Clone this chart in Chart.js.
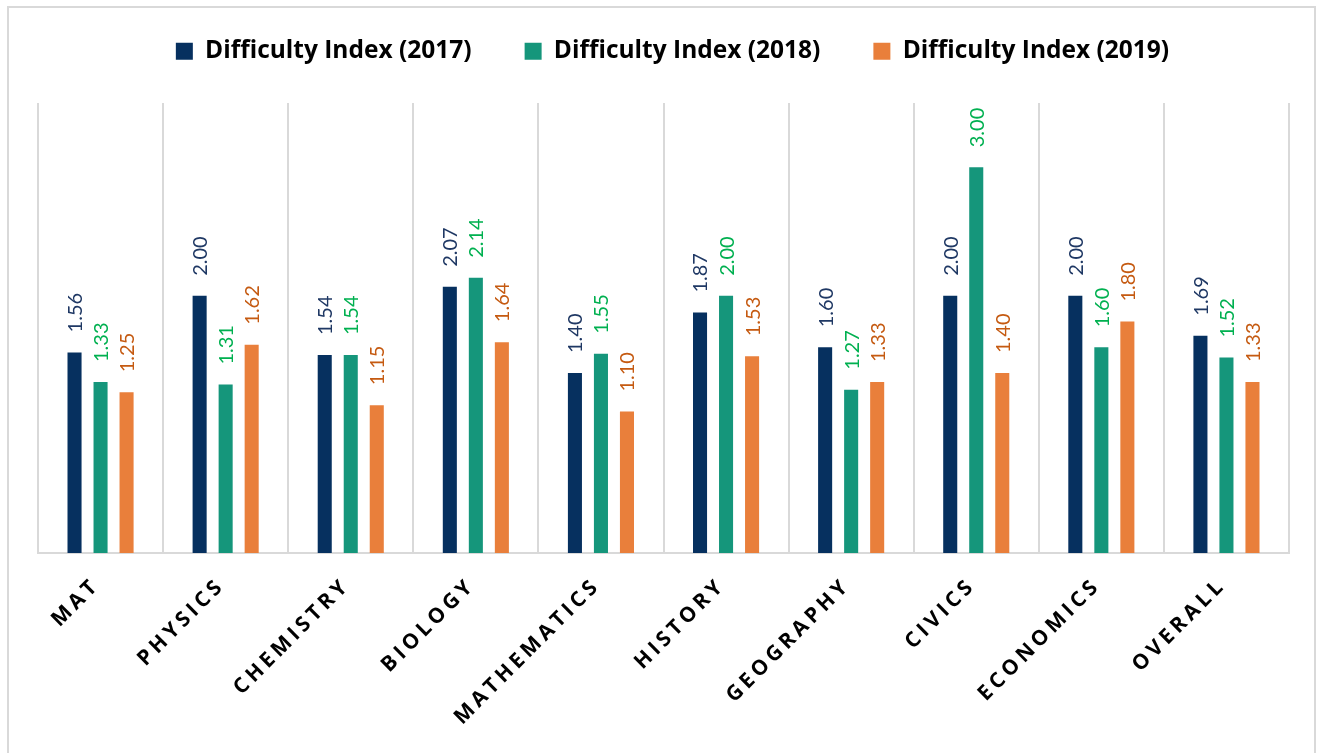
<!DOCTYPE html>
<html>
<head>
<meta charset="utf-8">
<script src="https://cdn.jsdelivr.net/npm/chart.js@4"></script>
<style>
  html, body { margin: 0; padding: 0; background: #fff; overflow: hidden; }
  #wrap { position: absolute; left: 0; top: 0; width: 1322px; height: 753px; }
  #frame { position: absolute; left: 7px; top: 6px; width: 1309px; height: 800px; border: 2px solid #d9d9d9; box-sizing: border-box; }
</style>
</head>
<body>
<div id="frame"></div>
<div id="wrap"><canvas id="myChart" width="1322" height="753"></canvas></div>
<script>
// chart data
const subjects = ['MAT', 'PHYSICS', 'CHEMISTRY', 'BIOLOGY', 'MATHEMATICS', 'HISTORY', 'GEOGRAPHY', 'CIVICS', 'ECONOMICS', 'OVERALL'];
const index2017 = [1.56, 2.00, 1.54, 2.07, 1.40, 1.87, 1.60, 2.00, 2.00, 1.69];
const index2018 = [1.33, 1.31, 1.54, 2.14, 1.55, 2.00, 1.27, 3.00, 1.60, 1.52];
const index2019 = [1.25, 1.62, 1.15, 1.64, 1.10, 1.53, 1.33, 1.40, 1.80, 1.33];

const barColors = ['#06305f', '#15967b', '#e97f3b'];
const labelColors = ['#1f3864', '#00b050', '#c55a11'];

// value labels above the bars, rotated, plus letter spacing for the x labels
const valueLabels = {
    id: 'valueLabels',
    beforeDraw(chart) {
        chart.ctx.letterSpacing = '0px';
    },
    afterDatasetsDraw(chart) {
        const ctx = chart.ctx;
        chart.data.datasets.forEach((ds, i) => {
            chart.getDatasetMeta(i).data.forEach((bar, j) => {
                ctx.save();
                ctx.translate(bar.x + 1, bar.y - 20);
                ctx.rotate(-Math.PI / 2);
                ctx.font = '400 20px Lato';
                ctx.fillStyle = labelColors[i];
                ctx.textAlign = 'left';
                ctx.textBaseline = 'middle';
                ctx.fillText(ds.data[j].toFixed(2), 0, 0);
                ctx.restore();
            });
        });
        ctx.letterSpacing = '4px';
    }
};

// legend: wide gaps between items but sitting near the top
const legendBox = {
    id: 'legendBox',
    afterInit(chart) {
        const lg = chart.legend;
        const fit = lg.fit.bind(lg);
        lg.fit = function () {
            fit();
            this.height = 117;
        };
        const draw = lg.draw.bind(lg);
        lg.draw = function () {
            chart.ctx.save();
            chart.ctx.translate(9, 0);
            draw();
            chart.ctx.restore();
        };
    }
};

const ctx = document.getElementById('myChart').getContext('2d');
const myChart = new Chart(ctx, {
    type: 'bar',
    data: {
        labels: subjects,
        datasets: [
            { label: 'Difficulty Index (2017)', data: index2017, backgroundColor: barColors[0] },
            { label: 'Difficulty Index (2018)', data: index2018, backgroundColor: barColors[1] },
            { label: 'Difficulty Index (2019)', data: index2019, backgroundColor: barColors[2] }
        ]
    },
    options: {
        responsive: false,
        animation: false,
        categoryPercentage: 0.624,
        barPercentage: 0.54,
        layout: { padding: { left: 38, right: 33, top: -14, bottom: 10 } },
        plugins: {
            legend: {
                labels: {
                    boxWidth: 17,
                    boxHeight: 17,
                    padding: 53,
                    color: '#000',
                    font: { family: 'Open Sans', weight: 'bold', size: 24.5 }
                }
            },
            tooltip: { enabled: false }
        },
        scales: {
            x: {
                offset: true,
                grid: { offset: true, color: '#d9d9d9', lineWidth: 2, drawTicks: false },
                border: { color: '#d9d9d9', width: 2 },
                ticks: {
                    z: 1,
                    minRotation: 45,
                    maxRotation: 45,
                    padding: 20,
                    labelOffset: -4,
                    color: '#000',
                    font: { family: 'Open Sans', weight: 'bold', size: 21 }
                },
                afterFit(scale) { scale.height = 190; }
            },
            y: {
                display: false,
                min: 0,
                max: 3.5
            }
        }
    },
    plugins: [valueLabels, legendBox]
});
</script>
</body>
</html>
